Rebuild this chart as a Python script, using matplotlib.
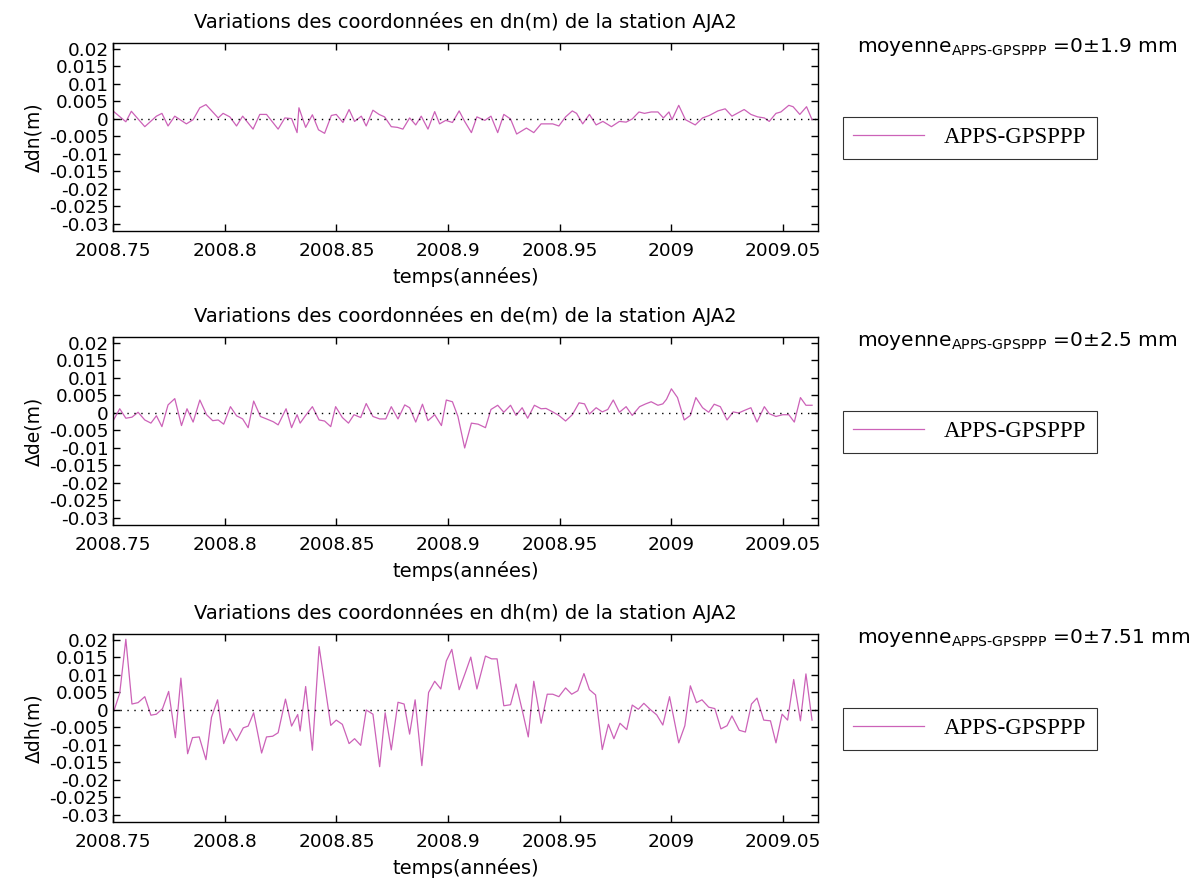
import numpy as np
import matplotlib.pyplot as plt

# jours depuis 2008.75 et ecarts (m)
jours_dn = [0.0, 2.1, 3.0, 5.2, 7.1, 8.0, 9.0, 10.1, 12.0, 13.1, 14.2, 15.2, 17.2, 18.0, 19.1,
            20.2, 21.2, 22.9, 24.0, 25.1, 27.0, 28.1, 29.2, 30.1, 30.4, 31.5, 32.6, 33.6, 34.6,
            35.7, 36.5, 37.6, 38.6, 39.5, 40.6, 41.4, 42.5, 43.5, 44.4, 45.5, 46.5, 47.4, 48.5,
            49.5, 50.4, 51.5, 52.6, 53.4, 54.4, 55.5, 56.6, 57.5, 58.6, 59.5, 60.8, 61.8, 62.9,
            63.9, 65.0, 66.0, 67.6, 68.8, 70.0, 71.9, 72.9, 74.0, 75.1, 75.8, 76.8, 77.9, 79.0,
            80.1, 81.5, 82.8, 83.9, 84.9, 86.0, 86.9, 88.0, 89.1, 90.0, 90.9, 91.4, 92.5, 93.6,
            95.2, 96.4, 97.5, 98.9, 100.1, 101.2, 103.2, 104.3, 105.4, 106.5, 107.3, 108.4,
            109.2, 110.5, 111.2, 112.3, 113.4, 114.3]
dn = [0.0023, -0.0008, 0.0022, -0.0022, 0.0008, 0.0016, -0.0020, 0.0008, -0.0014, -0.0002,
      0.0032, 0.0041, 0.0003, 0.0016, 0.0006, -0.0020, 0.0008, -0.0029, 0.0013, 0.0013,
      -0.0029, 0.0003, 0.0001, -0.0039, 0.0032, -0.0024, 0.0012, -0.0031, -0.0041, 0.0010,
      0.0013, -0.0010, 0.0027, -0.0007, 0.0008, -0.0020, 0.0025, 0.0013, 0.0006, -0.0022,
      -0.0024, -0.0029, 0.0003, -0.0017, 0.0008, -0.0029, 0.0021, -0.0014, -0.0004, -0.0010,
      0.0023, -0.0007, -0.0039, 0.0006, -0.0004, 0.0008, -0.0039, 0.0013, 0.0000, -0.0043,
      -0.0026, -0.0039, -0.0014, -0.0014, -0.0020, 0.0006, 0.0023, 0.0016, -0.0014, 0.0013,
      -0.0017, -0.0007, -0.0022, -0.0007, -0.0009, 0.0000, 0.0020, 0.0016, 0.0020, 0.0020,
      0.0003, 0.0020, -0.0002, 0.0039, -0.0002, -0.0017, 0.0003, 0.0010, 0.0023, 0.0029,
      0.0008, 0.0027, 0.0013, 0.0006, 0.0003, -0.0007, 0.0016, 0.0020, 0.0039, 0.0035,
      0.0013, 0.0035, -0.0002]

jours_de = [0.0, 1.1, 2.1, 3.1, 4.1, 5.2, 6.2, 7.1, 8.0, 9.0, 10.1, 11.2, 12.1, 13.1, 14.2,
            15.3, 16.3, 17.2, 18.1, 19.2, 20.2, 21.2, 22.1, 23.0, 24.1, 25.1, 26.2, 27.0, 28.3,
            29.2, 30.1, 30.6, 31.5, 32.6, 33.7, 34.6, 35.6, 36.4, 37.5, 38.5, 39.4, 40.5, 41.4,
            42.5, 43.6, 44.6, 45.5, 46.6, 47.7, 48.5, 49.5, 50.6, 51.5, 52.6, 53.7, 54.5, 55.5,
            56.4, 57.5, 58.6, 59.7, 60.9, 61.8, 62.9, 63.9, 65.0, 65.9, 66.9, 67.8, 68.9, 70.0,
            70.8, 71.9, 72.9, 74.0, 75.1, 76.2, 77.1, 77.9, 79.0, 80.0, 80.9, 81.8, 82.8, 83.9,
            84.9, 86.1, 87.1, 88.0, 89.1, 89.9, 90.5, 91.3, 92.3, 93.4, 94.4, 95.3, 96.4, 97.4,
            98.3, 99.3, 100.4, 101.4, 102.3, 103.2, 104.3, 105.3, 106.5, 107.3, 108.4, 109.5,
            110.5, 111.4, 112.4, 113.3, 114.3]
de = [-0.0023, 0.0012, -0.0015, -0.0012, 0.0002, -0.0020, -0.0029, -0.0008, -0.0039, 0.0023,
      0.0041, -0.0036, 0.0012, -0.0026, 0.0037, -0.0005, -0.0022, -0.0020, -0.0032, 0.0018,
      -0.0008, -0.0017, -0.0042, 0.0034, -0.0010, -0.0017, -0.0025, -0.0034, 0.0012, -0.0042,
      -0.0005, -0.0029, -0.0007, 0.0018, -0.0020, -0.0023, -0.0039, 0.0018, -0.0013, -0.0029,
      -0.0005, -0.0013, 0.0027, -0.0010, -0.0017, -0.0017, 0.0018, -0.0017, 0.0023, 0.0015,
      -0.0026, 0.0025, -0.0022, -0.0005, -0.0036, 0.0037, 0.0032, -0.0010, -0.0100, -0.0029,
      -0.0032, -0.0042, 0.0010, 0.0022, 0.0002, 0.0022, -0.0007, 0.0015, -0.0015, 0.0022,
      0.0012, 0.0013, 0.0003, -0.0007, -0.0023, -0.0005, 0.0029, 0.0026, -0.0003, 0.0015,
      0.0003, 0.0010, 0.0037, 0.0002, 0.0018, -0.0007, 0.0018, 0.0026, 0.0032, 0.0022,
      0.0026, 0.0039, 0.0069, 0.0044, -0.0020, -0.0007, 0.0044, 0.0015, 0.0002, 0.0025,
      0.0018, -0.0020, 0.0003, 0.0000, 0.0007, 0.0015, -0.0026, 0.0018, -0.0002, -0.0010,
      -0.0005, -0.0005, -0.0026, 0.0044, 0.0022, 0.0022]

jours_dh = [0.2, 1.1, 2.1, 3.1, 4.1, 5.2, 6.2, 7.1, 8.1, 9.1, 10.2, 11.1, 12.2, 13.0, 14.1,
            15.2, 16.1, 17.1, 18.1, 19.1, 20.2, 21.3, 22.1, 23.0, 24.3, 25.1, 26.1, 27.0, 28.2,
            29.2, 30.2, 30.6, 31.5, 32.6, 33.7, 34.5, 35.6, 36.5, 37.5, 38.6, 39.5, 40.5, 41.4,
            42.5, 43.6, 44.5, 45.5, 46.6, 47.6, 48.5, 49.4, 50.5, 51.6, 52.6, 53.6, 54.5, 55.4,
            56.6, 57.6, 58.5, 59.5, 60.9, 61.9, 62.8, 63.9, 65.0, 65.9, 66.9, 67.9, 68.8, 70.0,
            71.0, 71.9, 72.9, 74.0, 75.0, 76.0, 77.0, 77.9, 78.9, 80.0, 81.0, 81.9, 82.9, 84.0,
            84.9, 85.9, 86.8, 87.8, 88.9, 89.9, 91.0, 92.5, 93.5, 94.4, 95.4, 96.3, 97.4, 98.4,
            99.4, 100.4, 101.2, 102.4, 103.4, 104.4, 105.3, 106.4, 107.5, 108.4, 109.4, 110.3,
            111.3, 112.4, 113.3, 114.3]
dh = [0.0000, 0.0048, 0.0202, 0.0017, 0.0021, 0.0038, -0.0015, -0.0012, 0.0004, 0.0053,
      -0.0079, 0.0091, -0.0125, -0.0079, -0.0077, -0.0142, -0.0021, 0.0029, -0.0096, -0.0053,
      -0.0088, -0.0051, -0.0046, -0.0008, -0.0123, -0.0077, -0.0075, -0.0065, 0.0031, -0.0046,
      -0.0013, -0.0060, 0.0067, -0.0115, 0.0181, 0.0087, -0.0044, -0.0029, -0.0041, -0.0096,
      -0.0082, -0.0101, 0.0000, -0.0012, -0.0162, -0.0008, -0.0114, 0.0022, 0.0017, -0.0069,
      0.0029, -0.0159, 0.0050, 0.0082, 0.0060, 0.0140, 0.0173, 0.0058, 0.0106, 0.0151,
      0.0060, 0.0154, 0.0146, 0.0146, 0.0012, 0.0015, 0.0074, 0.0000, -0.0077, 0.0082,
      -0.0038, 0.0045, 0.0045, 0.0038, 0.0063, 0.0045, 0.0055, 0.0104, 0.0058, 0.0043,
      -0.0113, -0.0041, -0.0082, -0.0038, -0.0056, 0.0014, 0.0002, 0.0019, 0.0002, -0.0014,
      -0.0043, 0.0038, -0.0094, -0.0045, 0.0069, 0.0021, 0.0029, 0.0008, 0.0004, -0.0054,
      -0.0045, -0.0017, -0.0058, -0.0063, 0.0017, 0.0034, -0.0029, -0.0031, -0.0094, -0.0012,
      -0.0029, 0.0087, -0.0031, 0.0103, -0.0029]

composantes = ['dn', 'de', 'dh']
ecarts_mm = ['1.9', '2.5', '7.51']
series = [(jours_dn, dn), (jours_de, de), (jours_dh, dh)]

x_ticks = [2008.75, 2008.8, 2008.85, 2008.9, 2008.95, 2009.0, 2009.05]
x_labels = ['2008.75', '2008.8', '2008.85', '2008.9', '2008.95', '2009', '2009.05']
y_ticks = [0.02, 0.015, 0.01, 0.005, 0.0, -0.005, -0.01, -0.015, -0.02, -0.025, -0.03]
y_labels = ['0.02', '0.015', '0.01', '0.005', '0', '-0.005', '-0.01', '-0.015', '-0.02',
            '-0.025', '-0.03']

plt.rcParams['font.family'] = ['DejaVu Sans']
plt.rcParams['mathtext.default'] = 'regular'

W, H = 1198, 888
fig = plt.figure(figsize=(W / 100, H / 100), dpi=100)
tops = [43, 337, 634]
couleur = '#cc62b8'

for i, (jours, vals) in enumerate(series):
    top = tops[i]
    ax = fig.add_axes([113 / W, 1 - (top + 188) / H, 705 / W, 188 / H])
    t = 2008.75 + np.array(jours) / 365.25
    ax.plot(t, vals, color=couleur, lw=0.9, label='APPS-GPSPPP')
    ax.axhline(0, color='black', ls=(0, (1, 4)), lw=1.0)
    ax.set_xlim(2008.75, 2009.0656)
    ax.set_ylim(-0.032, 0.0217)
    ax.set_xticks(x_ticks)
    ax.set_xticklabels(x_labels)
    ax.set_yticks(y_ticks)
    ax.set_yticklabels(y_labels)
    ax.tick_params(direction='in', length=5, width=1, top=True, right=True,
                   labelsize=13.3, colors='black')
    ax.tick_params(axis='x', pad=8)
    ax.tick_params(axis='y', pad=3)
    for s in ax.spines.values():
        s.set_linewidth(1.0)
    ax.set_title('Variations des coordonnées en %s(m) de la station AJA2' % composantes[i],
                 fontsize=14, pad=11)
    ax.set_xlabel('temps(années)', fontsize=14, labelpad=5)
    ax.set_ylabel('Δ%s(m)' % composantes[i], fontsize=13.5, labelpad=4)

    fig.text(857 / W, 1 - (top + 4) / H,
             r'moyenne$_{APPS\text{-}GPSPPP}$ =0±%s mm' % ecarts_mm[i],
             fontsize=14.5, va='center', ha='left')
    leg = ax.legend(loc='upper left', bbox_to_anchor=(843 / W, 1 - (top + 74) / H),
                    bbox_transform=fig.transFigure, borderaxespad=0, fancybox=False,
                    frameon=True, handlelength=3.1, handletextpad=0.85, borderpad=0.45,
                    prop={'family': 'Liberation Serif', 'size': 16.5})
    leg.get_frame().set_edgecolor('black')
    leg.get_frame().set_linewidth(0.8)

fig.savefig('out.png', dpi=100)
